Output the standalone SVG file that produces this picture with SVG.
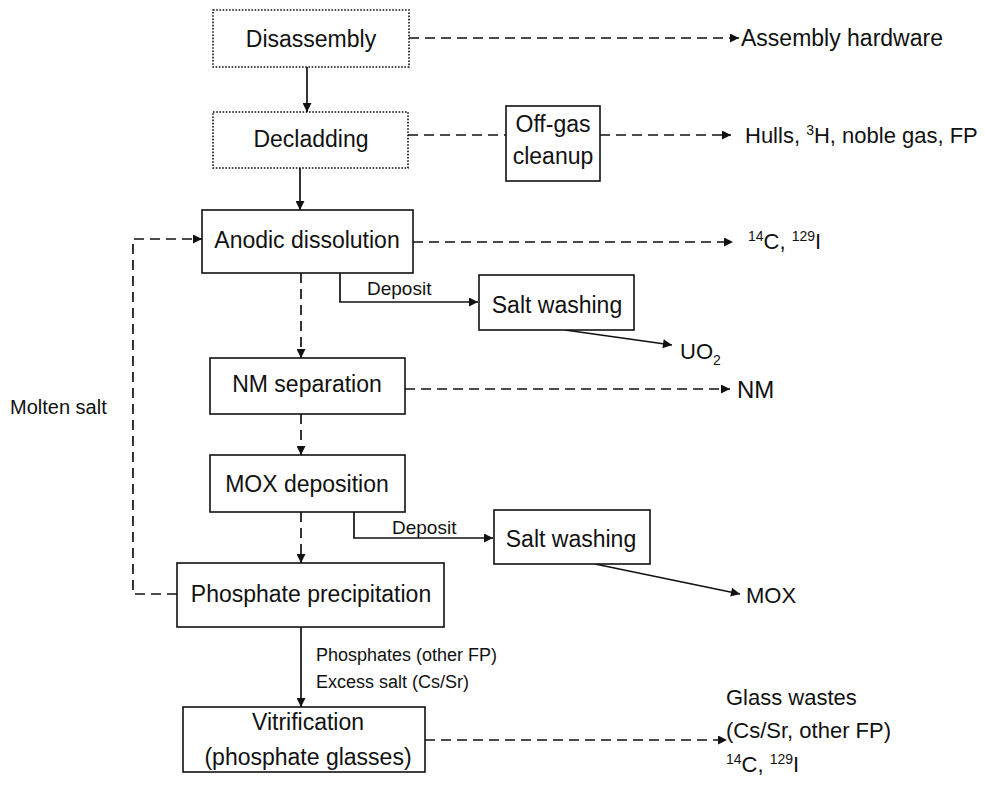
<svg xmlns="http://www.w3.org/2000/svg" width="985" height="787" viewBox="0 0 985 787">
  <style>
    text { font-family: "Liberation Sans", Arial, sans-serif; fill: #111; }
    .box { fill: #fff; stroke: #111; stroke-width: 1.6; }
    .dotbox { fill: #fff; stroke: #111; stroke-width: 1.6; stroke-dasharray: 1.6 1.6; }
    .lbl { font-size: 23px; text-anchor: middle; }
    .out { font-size: 22px; }
    .small { font-size: 18px; }
    .solid { fill: none; stroke: #111; stroke-width: 1.7; }
    .dash { fill: none; stroke: #111; stroke-width: 1.7; stroke-dasharray: 10 6; }
    .sup { font-size: 14px; }
  </style>
  <defs>
    <marker id="arr" viewBox="0 0 10 10" refX="10" refY="5" markerWidth="10" markerHeight="9" markerUnits="userSpaceOnUse" orient="auto">
      <path d="M0,0 L10,5 L0,10 z" fill="#111"/>
    </marker>
  </defs>

  <!-- connectors -->
  <g id="connectors">
    <path class="solid" d="M307,67 V112" marker-end="url(#arr)"/>
    <path class="dash" d="M409,38 H739" marker-end="url(#arr)"/>
    <path class="dash" d="M408,135 H506"/>
    <path class="dash" d="M600,135 H731" marker-end="url(#arr)"/>
    <path class="solid" d="M300,168 V210" marker-end="url(#arr)"/>
    <path class="dash" d="M413,242 H733" marker-end="url(#arr)"/>
    <path class="solid" d="M340,273 V302 H478" marker-end="url(#arr)"/>
    <path class="solid" d="M565,330 L672,345" marker-end="url(#arr)"/>
    <path class="dash" d="M301,273 V358" marker-end="url(#arr)"/>
    <path class="dash" d="M405,389 H730" marker-end="url(#arr)"/>
    <path class="dash" d="M301,414 V455" marker-end="url(#arr)"/>
    <path class="solid" d="M354,512 V538 H493" marker-end="url(#arr)"/>
    <path class="solid" d="M595,564 L740,594" marker-end="url(#arr)"/>
    <path class="dash" d="M301,512 V563" marker-end="url(#arr)"/>
    <path class="dash" d="M177,594 H133 V239 H202" marker-end="url(#arr)"/>
    <path class="solid" d="M301,627 V707" marker-end="url(#arr)"/>
    <path class="dash" d="M425,740 H727" marker-end="url(#arr)"/>
  </g>

  <!-- process nodes -->
  <g id="disassembly">
    <rect class="dotbox" x="213" y="10" width="196" height="57"/>
    <text class="lbl" x="311" y="47">Disassembly</text>
  </g>
  <g id="decladding">
    <rect class="dotbox" x="213" y="112" width="195" height="56"/>
    <text class="lbl" x="311" y="147">Decladding</text>
  </g>
  <g id="offgas">
    <rect class="box" x="506" y="106" width="94" height="75"/>
    <text class="lbl" x="553" y="132">Off-gas</text>
    <text class="lbl" x="553" y="164">cleanup</text>
  </g>
  <g id="anodic">
    <rect class="box" x="202" y="210" width="211" height="63"/>
    <text class="lbl" x="307" y="248">Anodic dissolution</text>
  </g>
  <g id="saltwash1">
    <rect class="box" x="479" y="275" width="155" height="55"/>
    <text class="lbl" x="557" y="313">Salt washing</text>
  </g>
  <g id="nmsep">
    <rect class="box" x="210" y="358" width="195" height="56"/>
    <text class="lbl" x="307" y="392">NM separation</text>
  </g>
  <g id="moxdep">
    <rect class="box" x="210" y="455" width="195" height="57"/>
    <text class="lbl" x="307" y="492">MOX deposition</text>
  </g>
  <g id="saltwash2">
    <rect class="box" x="494" y="510" width="156" height="54"/>
    <text class="lbl" x="571" y="547">Salt washing</text>
  </g>
  <g id="phosphate">
    <rect class="box" x="177" y="563" width="267" height="64"/>
    <text class="lbl" x="311" y="602">Phosphate precipitation</text>
  </g>
  <g id="vitrification">
    <rect class="box" x="183" y="707" width="242" height="65"/>
    <text class="lbl" x="308" y="730">Vitrification</text>
    <text class="lbl" x="308" y="765">(phosphate glasses)</text>
  </g>

  <!-- labels and products -->
  <g id="labels">
    <text x="367" y="295" style="font-size:19px">Deposit</text>
    <text x="392" y="534" style="font-size:19px">Deposit</text>
    <text x="10" y="414" style="font-size:20px">Molten salt</text>
    <text class="small" x="316" y="661">Phosphates (other FP)</text>
    <text class="small" x="316" y="688">Excess salt (Cs/Sr)</text>
  </g>
  <g id="products">
    <text class="out" x="741" y="46" style="font-size:23px">Assembly hardware</text>
    <text class="out" x="745" y="143">Hulls, <tspan class="sup" dy="-8">3</tspan><tspan dy="8">H, noble gas, FP</tspan></text>
    <text class="out" x="748" y="249"><tspan class="sup" dy="-8">14</tspan><tspan dy="8">C,  </tspan><tspan class="sup" dy="-8">129</tspan><tspan dy="8">I</tspan></text>
    <text class="out" x="680" y="359">UO<tspan class="sup" dy="6">2</tspan></text>
    <text class="out" x="737" y="398" style="font-size:24px">NM</text>
    <text class="out" x="746" y="603">MOX</text>
    <text class="out" x="726" y="705">Glass wastes</text>
    <text class="out" x="726" y="738">(Cs/Sr, other FP)</text>
    <text class="out" x="726" y="772"><tspan class="sup" dy="-8">14</tspan><tspan dy="8">C,  </tspan><tspan class="sup" dy="-8">129</tspan><tspan dy="8">I</tspan></text>
  </g>
</svg>
